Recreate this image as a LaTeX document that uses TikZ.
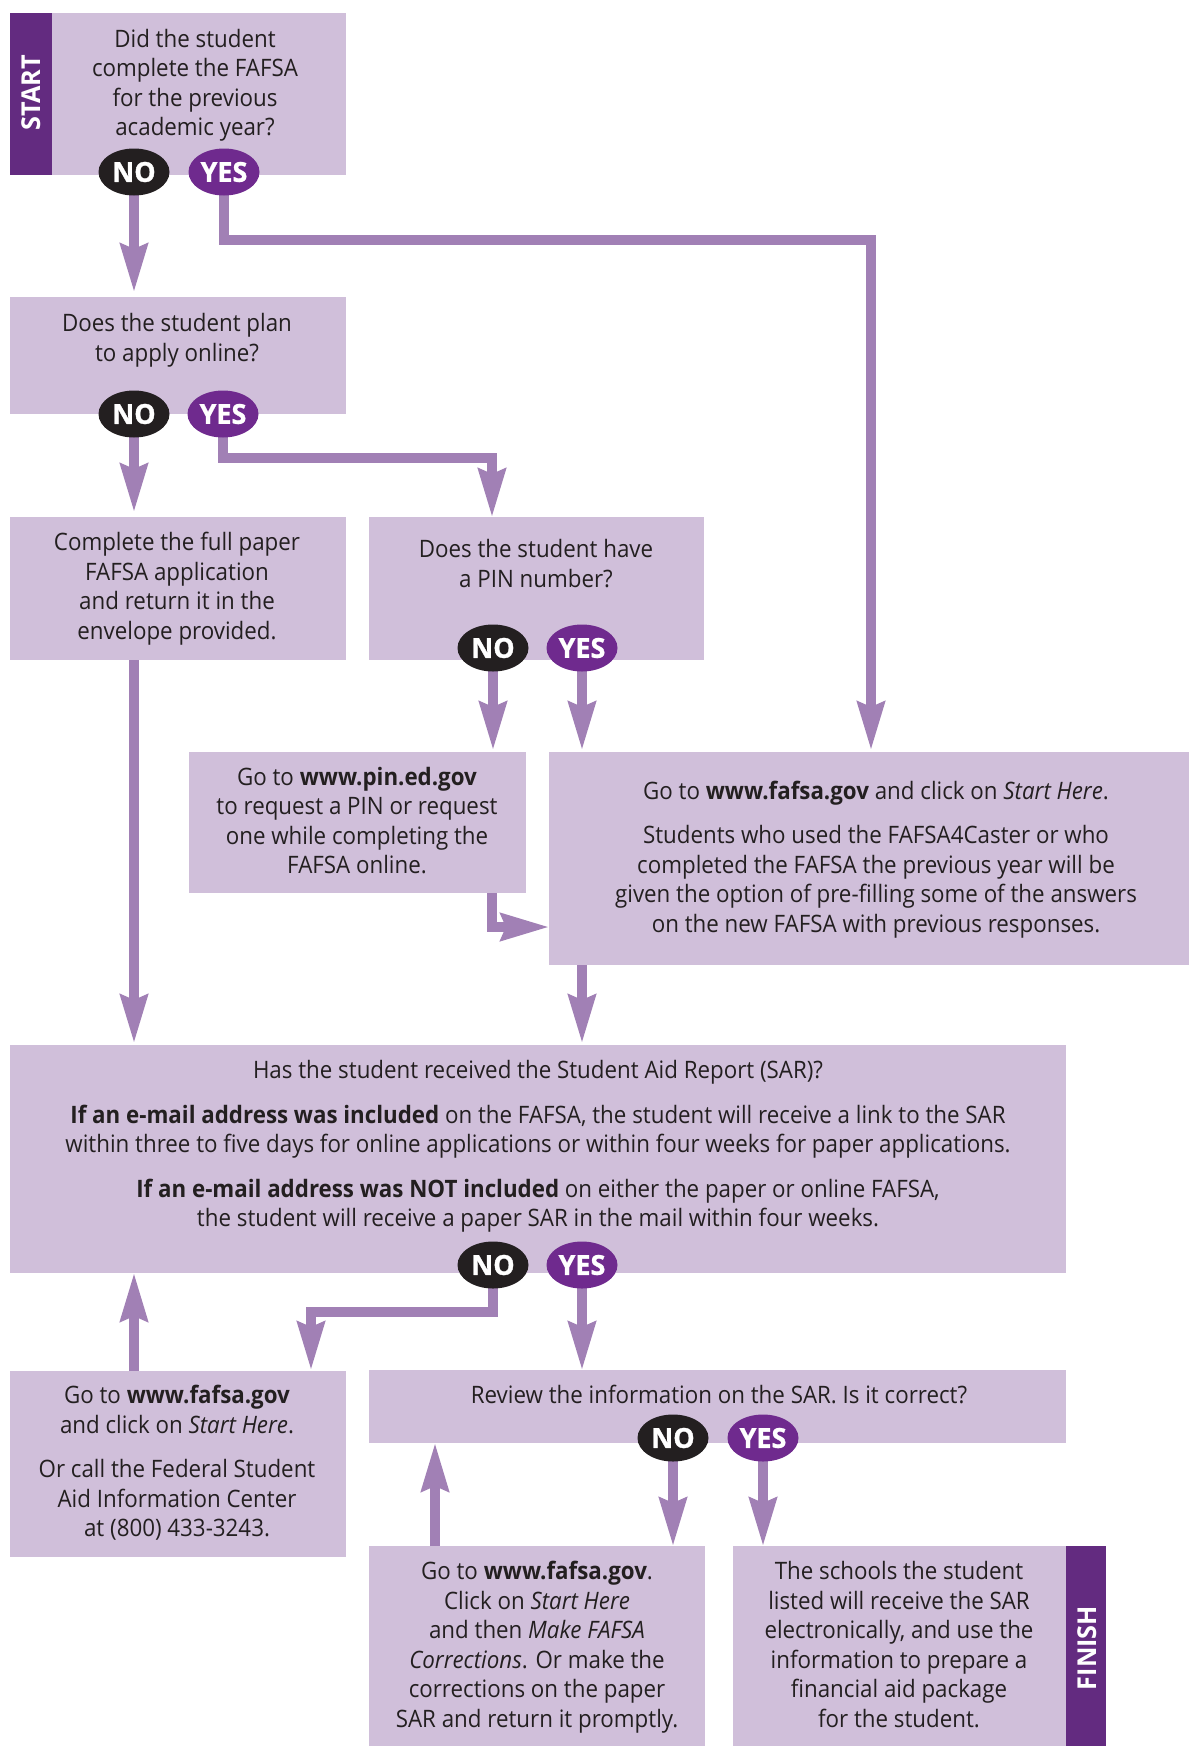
\documentclass[tikz,border=0pt]{standalone}
\usepackage{fontspec}
\setmainfont{Open Sans}[FakeStretch=0.93]
\newfontfamily\labfont{Open Sans}[FakeStretch=0.98, FakeBold=1.2]
\newfontfamily\barfont{Open Sans}[FakeStretch=0.97]
\usetikzlibrary{arrows.meta,shapes.geometric}
\definecolor{boxfill}{RGB}{208,191,218}
\definecolor{barcol}{RGB}{99,43,128}
\definecolor{yescol}{RGB}{111,42,142}
\definecolor{nocol}{RGB}{35,31,32}
\definecolor{arrcol}{RGB}{161,128,181}
\definecolor{textcol}{RGB}{35,31,32}
\begin{document}
\begin{tikzpicture}[x=1pt,y=-1pt,
  box/.style={fill=boxfill, draw=none, inner sep=0pt, outer sep=0pt, anchor=north west},
  bar/.style={fill=barcol, draw=none, inner sep=0pt, outer sep=0pt, anchor=north west},
  bartext/.style={rotate=90, text=white, inner sep=0pt, font=\barfont\bfseries\fontsize{26}{26}\selectfont},
  oval/.style={ellipse, minimum width=71pt, minimum height=47pt, inner sep=0pt, text=white, font=\labfont\bfseries\fontsize{27.5}{27.5}\selectfont},
  nooval/.style={oval, fill=nocol},
  yesoval/.style={oval, fill=yescol},
  txt/.style={font=\fontsize{24}{29.5}\selectfont, align=center, inner sep=0pt, text=textcol},
  arr/.style={draw=arrcol, line width=9.3pt, line join=miter, -{Stealth[length=48pt, width=27pt, inset=5pt]}}
]
\useasboundingbox (0,0) rectangle (1189,1746);
% boxes
\node[box, minimum width=336pt, minimum height=162pt] (b1) at (10,13) {};
\node[bar, minimum width=42pt, minimum height=162pt] (startbar) at (10,13) {};
\node[box, minimum width=336pt, minimum height=117pt] (b2) at (10,297) {};
\node[box, minimum width=336pt, minimum height=143pt] (b3) at (10,517) {};
\node[box, minimum width=335pt, minimum height=143pt] (b4) at (369,517) {};
\node[box, minimum width=337pt, minimum height=141pt] (b5) at (189,752) {};
\node[box, minimum width=640pt, minimum height=213pt] (b6) at (549,752) {};
\node[box, minimum width=1056pt, minimum height=228pt] (b7) at (10,1045) {};
\node[box, minimum width=336pt, minimum height=186pt] (b8) at (10,1371) {};
\node[box, minimum width=697pt, minimum height=73pt] (b9) at (369,1370) {};
\node[box, minimum width=336pt, minimum height=200pt] (b10) at (369,1546) {};
\node[box, minimum width=333pt, minimum height=200pt] (b11) at (733,1546) {};
\node[bar, minimum width=40pt, minimum height=200pt] (finishbar) at (1066,1546) {};
\node[bartext] (starttxt) at (31,93) {START};
\node[bartext] (finishtxt) at (1087,1648) {FINISH};
% oval positions
\coordinate (no1p) at (134,172); \coordinate (yes1p) at (224,172);
\coordinate (no2p) at (134,414); \coordinate (yes2p) at (223,414);
\coordinate (no3p) at (493,648); \coordinate (yes3p) at (582,648);
\coordinate (no4p) at (493,1265); \coordinate (yes4p) at (582,1265);
\coordinate (no5p) at (673,1438); \coordinate (yes5p) at (763,1438);
% connectors
\coordinate (k1a) at (224,240); \coordinate (k1b) at (871,240);
\coordinate (k2a) at (223,458); \coordinate (k2b) at (492,458);
\coordinate (k5) at (492,927);
\coordinate (k4a) at (493,1312); \coordinate (k4b) at (311,1312);
\coordinate (k6) at (435,1500);
\draw[arr, shorten >=5pt] (no1p) -- (no1p |- b2.north);
\draw[arr, shorten >=2pt] (yes1p) -- (k1a) -- (k1b) -- (k1b |- b6.north);
\draw[arr, shorten >=5pt] (no2p) -- (no2p |- b3.north);
\draw[arr] (yes2p) -- (k2a) -- (k2b) -- (k2b |- b4.north);
\draw[arr, shorten >=2pt] (no3p) -- (no3p |- b5.north);
\draw[arr, shorten >=2pt] (yes3p) -- (yes3p |- b6.north);
\draw[arr] (k5 |- b5.south) -- (k5) -- (k5 -| b6.west);
\draw[arr, shorten >=2pt] (no2p |- b3.south) -- (no2p |- b7.north);
\draw[arr, shorten >=2pt] (yes3p |- b6.south) -- (yes3p |- b7.north);
\draw[arr, shorten >=1pt] (no4p) -- (k4a) -- (k4b) -- (k4b |- b8.north);
\draw[arr] (yes4p) -- (yes4p |- b9.north);
\draw[arr] (no2p |- b8.north) -- (no2p |- b7.south);
\draw[arr] (no5p) -- (no5p |- b10.north);
\draw[arr] (yes5p) -- (yes5p |- b11.north);
\draw[arr] (k6 |- b10.north) -- (k6 |- b9.south);
% ovals
\node[nooval] (no1) at (no1p) {NO};
\node[yesoval] (yes1) at (yes1p) {YES};
\node[nooval] (no2) at (no2p) {NO};
\node[yesoval] (yes2) at (yes2p) {YES};
\node[nooval] (no3) at (no3p) {NO};
\node[yesoval] (yes3) at (yes3p) {YES};
\node[nooval] (no4) at (no4p) {NO};
\node[yesoval] (yes4) at (yes4p) {YES};
\node[nooval] (no5) at (no5p) {NO};
\node[yesoval] (yes5) at (yes5p) {YES};
% texts
\node[txt] (t1) at (195,85.5) {\strut Did the student\\complete the FAFSA\\for the previous\\academic year?\strut};
\node[txt] (t2) at (177,340.5) {\strut Does the student plan\\to apply online?\strut};
\node[txt] (t3) at (177,589) {\strut Complete the full paper\\FAFSA application\\and return it in the\\envelope provided.\strut};
\node[txt] (t4) at (536,566.5) {\strut Does the student have\\a PIN number?\strut};
\node[txt] (t5) at (357,823.5) {\strut Go to \textbf{www.pin.ed.gov}\\to request a PIN or request\\one while completing the\\FAFSA online.\strut};
\node[txt] (t6) at (876,860) {\strut Go to \textbf{www.fafsa.gov} and click on \textit{Start Here}.\\[15pt]Students who used the FAFSA4Caster or who\\completed the FAFSA the previous year will be\\given the option of pre-filling some of the answers\\on the new FAFSA with previous responses.\strut};
\node[txt] (t7) at (538,1147) {\strut Has the student received the Student Aid Report (SAR)?\\[15pt]\textbf{If an e-mail address was included} on the FAFSA, the student will receive a link to the SAR\\within three to five days for online applications or within four weeks for paper applications.\\[15pt]\textbf{If an e-mail address was NOT included} on either the paper or online FAFSA,\\the student will receive a paper SAR in the mail within four weeks.\strut};
\node[txt] (t8) at (177,1464.5) {\strut Go to \textbf{www.fafsa.gov}\\and click on \textit{Start Here}.\\[15pt]Or call the Federal Student\\Aid Information Center\\at (800) 433-3243.\strut};
\node[txt] (t9) at (719,1398) {\strut Review the information on the SAR. Is it correct?\strut};
\node[txt] (t10) at (537,1647.5) {\strut Go to \textbf{www.fafsa.gov}.\\Click on \textit{Start Here}\\and then \textit{Make FAFSA}\\\textit{Corrections}. Or make the\\corrections on the paper\\SAR and return it promptly.\strut};
\node[txt] (t11) at (899,1647.5) {\strut The schools the student\\listed will receive the SAR\\electronically, and use the\\information to prepare a\\financial aid package\\for the student.\strut};
\end{tikzpicture}
\end{document}
